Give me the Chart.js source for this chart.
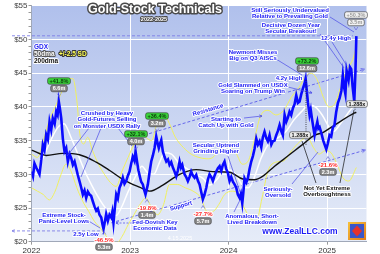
<!DOCTYPE html>
<html>
<head>
<meta charset="utf-8">
<script src="https://cdn.jsdelivr.net/npm/chart.js@4.4.1/dist/chart.umd.min.js"></script>
<style>
  html, body { margin: 0; padding: 0; background: #fff; }
</style>
</head>
<body>
<canvas id="gdxChart" width="380" height="254"></canvas>
<script>
// GDX daily closes (decimal years)
const gdxDates = [
  2022.000, 2022.015, 2022.030, 2022.048, 2022.081, 2022.100, 2022.115, 2022.132, 2022.149, 2022.166,
  2022.183, 2022.200, 2022.216, 2022.235, 2022.251, 2022.265, 2022.277, 2022.290, 2022.302, 2022.318,
  2022.335, 2022.352, 2022.369, 2022.386, 2022.403, 2022.420, 2022.437, 2022.455, 2022.470, 2022.487,
  2022.505, 2022.521, 2022.538, 2022.555, 2022.572, 2022.589, 2022.605, 2022.622, 2022.640, 2022.657,
  2022.673, 2022.690, 2022.708, 2022.720, 2022.731, 2022.745, 2022.758, 2022.775, 2022.792, 2022.809,
  2022.820, 2022.832, 2022.846, 2022.860, 2022.876, 2022.893, 2022.910, 2022.927, 2022.944, 2022.961,
  2022.978, 2022.995, 2023.012, 2023.028, 2023.045, 2023.056, 2023.072, 2023.085, 2023.096, 2023.113,
  2023.130, 2023.145, 2023.157, 2023.170, 2023.181, 2023.198, 2023.215, 2023.232, 2023.249, 2023.258,
  2023.266, 2023.280, 2023.292, 2023.305, 2023.317, 2023.333, 2023.350, 2023.368, 2023.385, 2023.401,
  2023.418, 2023.435, 2023.452, 2023.469, 2023.486, 2023.503, 2023.517, 2023.530, 2023.553, 2023.570,
  2023.587, 2023.604, 2023.621, 2023.638, 2023.655, 2023.672, 2023.690, 2023.706, 2023.722, 2023.739,
  2023.756, 2023.774, 2023.790, 2023.807, 2023.824, 2023.841, 2023.858, 2023.875, 2023.892, 2023.909,
  2023.926, 2023.942, 2023.959, 2023.976, 2023.993, 2024.010, 2024.027, 2024.044, 2024.061, 2024.078,
  2024.094, 2024.112, 2024.125, 2024.139, 2024.150, 2024.162, 2024.180, 2024.196, 2024.213, 2024.230,
  2024.247, 2024.264, 2024.281, 2024.298, 2024.315, 2024.332, 2024.348, 2024.365, 2024.382, 2024.399,
  2024.416, 2024.434, 2024.450, 2024.467, 2024.484, 2024.500, 2024.518, 2024.535, 2024.551, 2024.569,
  2024.586, 2024.602, 2024.619, 2024.636, 2024.653, 2024.670, 2024.687, 2024.704, 2024.721, 2024.738,
  2024.754, 2024.770, 2024.782, 2024.794, 2024.805, 2024.822, 2024.834, 2024.846, 2024.860, 2024.873,
  2024.887, 2024.901, 2024.912, 2024.924, 2024.936, 2024.947, 2024.961, 2024.975, 2024.992, 2025.008,
  2025.025, 2025.042, 2025.059, 2025.074, 2025.092, 2025.110, 2025.127, 2025.145, 2025.160, 2025.174,
  2025.186, 2025.198, 2025.218, 2025.232, 2025.245, 2025.259, 2025.276, 2025.287, 2025.297
];
const gdxPrices = [
  30.4, 29.7, 31.6, 31.0, 30.0, 32.2, 34.4, 33.6, 35.9, 35.2,
  37.8, 36.6, 38.3, 37.5, 39.3, 38.8, 40.8, 39.6, 38.3, 35.3,
  33.4, 33.9, 31.9, 33.0, 32.4, 31.4, 31.9, 30.8, 29.9, 29.0,
  28.0, 27.0, 27.6, 26.5, 27.4, 27.0, 26.8, 26.0, 25.2, 24.6,
  24.9, 24.0, 23.6, 22.6, 21.9, 23.0, 24.1, 23.1, 24.0, 23.6,
  24.4, 22.8, 25.0, 27.0, 26.4, 28.0, 28.6, 29.5, 28.6, 29.0,
  29.8, 30.4, 31.6, 32.6, 32.0, 33.4, 31.8, 30.6, 29.9, 28.9,
  28.5, 27.6, 27.0, 27.8, 28.5, 30.3, 31.9, 32.8, 33.9, 34.8,
  35.6, 34.6, 33.9, 34.6, 35.1, 33.4, 32.6, 31.9, 32.2, 31.4,
  31.8, 31.0, 30.4, 29.7, 30.6, 31.9, 31.0, 31.4, 30.0, 29.6,
  29.0, 29.6, 30.4, 29.8, 29.5, 29.9, 29.0, 28.5, 27.4, 26.3,
  27.0, 28.0, 29.2, 30.0, 29.6, 29.0, 29.8, 30.4, 30.9, 31.2,
  30.5, 31.4, 31.9, 30.8, 30.2, 29.0, 29.6, 28.9, 28.5, 28.0,
  27.0, 26.5, 27.1, 25.7, 27.3, 29.4, 28.8, 29.4, 30.8, 31.9,
  32.7, 33.8, 35.3, 34.4, 34.9, 34.0, 35.5, 36.3, 35.4, 34.9,
  35.8, 34.4, 34.9, 35.0, 35.8, 36.4, 37.3, 36.4, 35.8, 38.8,
  37.8, 38.4, 39.3, 38.8, 39.8, 40.4, 41.7, 40.6, 40.8, 41.9,
  42.7, 43.4, 44.2, 42.4, 40.7, 38.8, 39.6, 38.3, 37.0, 35.8,
  36.9, 37.8, 36.8, 37.0, 36.4, 35.8, 35.0, 34.4, 33.7, 34.6,
  35.8, 35.6, 37.0, 37.2, 39.2, 40.6, 41.3, 42.4, 44.7, 42.8,
  41.9, 45.4, 44.0, 45.9, 45.6, 43.0, 40.8, 45.0, 50.5
];

// 50-day moving average (white)
const ma50Dates = [
  2022.00, 2022.05, 2022.12, 2022.20, 2022.27, 2022.33, 2022.40, 2022.47, 2022.54, 2022.60,
  2022.67, 2022.74, 2022.80, 2022.86, 2022.92, 2022.98, 2023.05, 2023.12, 2023.18, 2023.24,
  2023.30, 2023.35, 2023.42, 2023.50, 2023.58, 2023.66, 2023.74, 2023.81, 2023.88, 2023.95,
  2024.02, 2024.08, 2024.15, 2024.20, 2024.26, 2024.33, 2024.42, 2024.50, 2024.58, 2024.66,
  2024.74, 2024.82, 2024.88, 2024.95, 2025.02, 2025.06, 2025.14, 2025.24, 2025.297
];
const ma50Values = [
  30.0, 30.2, 32.5, 35.2, 37.0, 37.5, 35.5, 33.0, 30.5, 28.7,
  26.8, 25.2, 24.2, 23.9, 25.3, 27.4, 29.5, 31.2, 30.2, 30.0,
  31.8, 33.2, 33.0, 31.6, 30.8, 30.0, 29.4, 28.4, 29.2, 30.5,
  30.6, 29.8, 28.2, 28.0, 29.5, 32.4, 34.8, 35.4, 36.3, 38.0,
  39.3, 40.3, 40.0, 38.8, 37.0, 36.3, 37.6, 39.6, 40.5
];

// 200-day moving average (black)
const ma200Dates = [
  2022.00, 2022.149, 2022.318, 2022.487, 2022.657, 2022.79, 2022.92, 2023.00, 2023.096, 2023.198,
  2023.333, 2023.503, 2023.672, 2023.841, 2024.010, 2024.145, 2024.264, 2024.345, 2024.467, 2024.548,
  2024.67, 2024.75, 2024.873, 2024.957, 2025.076, 2025.28, 2025.297
];
const ma200Values = [
  33.6, 32.8, 33.1, 32.9, 31.8, 30.6, 29.3, 28.7, 28.1, 27.5,
  28.4, 30.0, 30.7, 30.4, 30.3, 29.3, 29.2, 29.7, 31.2, 32.1,
  33.5, 34.4, 35.8, 36.2, 37.3, 39.1, 39.2
];

// 50dma +/- 2.5 SD bands (yellow)
const upperDates = [
  2022.00, 2022.06, 2022.12, 2022.18, 2022.24, 2022.30, 2022.36, 2022.42, 2022.46, 2022.49,
  2022.53, 2022.57, 2022.62, 2022.68, 2022.74, 2022.80, 2022.86, 2022.92, 2022.98, 2023.04,
  2023.10, 2023.16, 2023.22, 2023.28, 2023.34, 2023.40, 2023.46, 2023.54, 2023.62, 2023.70,
  2023.78, 2023.84, 2023.90, 2023.96, 2024.02, 2024.08, 2024.14, 2024.20, 2024.26, 2024.32,
  2024.40, 2024.48, 2024.56, 2024.64, 2024.72, 2024.78, 2024.84, 2024.90, 2024.96, 2025.02,
  2025.08, 2025.14, 2025.20, 2025.26, 2025.297
];
const upperValues = [
  33.0, 32.5, 35.0, 38.0, 40.0, 42.0, 44.0, 44.2, 41.0, 36.0,
  34.5, 35.5, 33.5, 31.5, 30.0, 28.8, 28.2, 30.5, 32.5, 34.5,
  36.5, 35.5, 35.0, 38.0, 39.0, 37.5, 35.5, 34.0, 33.0, 32.5,
  32.3, 32.5, 33.5, 34.5, 34.0, 33.0, 31.5, 32.0, 35.0, 38.5,
  39.5, 38.8, 39.5, 41.5, 43.0, 44.5, 45.0, 44.0, 41.5, 40.0,
  40.5, 43.0, 45.5, 47.0, 49.0
];
const lowerDates = [
  2022.00, 2022.06, 2022.12, 2022.18, 2022.24, 2022.30, 2022.35, 2022.40, 2022.46, 2022.52,
  2022.58, 2022.64, 2022.70, 2022.76, 2022.82, 2022.87, 2022.92, 2022.98, 2023.04, 2023.10,
  2023.16, 2023.22, 2023.28, 2023.34, 2023.40, 2023.48, 2023.56, 2023.64, 2023.72, 2023.78,
  2023.84, 2023.90, 2023.96, 2024.04, 2024.10, 2024.16, 2024.22, 2024.28, 2024.34, 2024.40,
  2024.48, 2024.56, 2024.64, 2024.72, 2024.80, 2024.86, 2024.92, 2024.98, 2025.04, 2025.10,
  2025.16, 2025.22, 2025.297
];
const lowerValues = [
  28.0, 27.5, 27.0, 26.2, 27.5, 30.0, 31.5, 30.5, 28.0, 26.0,
  24.5, 23.0, 22.0, 20.8, 20.0, 19.9, 20.8, 22.5, 24.0, 25.5,
  26.5, 25.0, 24.0, 25.5, 28.5, 28.5, 28.0, 27.5, 26.5, 24.5,
  24.5, 25.5, 27.0, 27.5, 27.0, 25.0, 23.5, 23.0, 26.5, 30.5,
  31.8, 32.0, 33.5, 34.8, 35.5, 34.0, 33.0, 33.5, 33.2, 31.5,
  29.5, 29.0, 31.0
];

// trend channel drawn on the chart
const resistanceDates = [2023.096, 2025.38];
const resistanceValues = [35.6, 45.6];
const supportDates = [2022.81, 2025.39];
const supportValues = [22.8, 33.6];

// dashed reference levels
const levelHigh = 50.55;
const levelLow = 21.6;

const yearTicks = [2022, 2023, 2024, 2025];

const FONT = '"Liberation Sans", Arial, sans-serif';
const BLUE = '#1c1cf5';

function toXY(dates, values) {
  return dates.map((d, i) => ({ x: d, y: values[i] }));
}

// --- drawing helpers for the callouts ---
function halo(ctx, text, x, y, fill, size, stroke, lw) {
  ctx.font = 'bold ' + size + 'px ' + FONT;
  ctx.textAlign = 'center';
  ctx.textBaseline = 'middle';
  ctx.lineJoin = 'round';
  ctx.strokeStyle = stroke || '#ffffff';
  ctx.lineWidth = lw || 2;
  ctx.strokeText(text, x, y);
  ctx.fillStyle = fill;
  ctx.fillText(text, x, y);
}

function pill(ctx, text, x, y, bg, fg) {
  ctx.font = 'bold 5.5px ' + FONT;
  ctx.textAlign = 'center';
  ctx.textBaseline = 'middle';
  const w = ctx.measureText(text).width + 4, h = 6.5;
  ctx.beginPath();
  ctx.roundRect(x - w / 2, y - h / 2, w, h, 2);
  ctx.fillStyle = bg;
  ctx.fill();
  ctx.strokeStyle = '#333';
  ctx.lineWidth = 0.6;
  ctx.stroke();
  ctx.fillStyle = fg;
  ctx.fillText(text, x, y + 0.3);
}

function seg(ctx, x1, y1, x2, y2, color, dash, lw) {
  ctx.beginPath();
  ctx.setLineDash(dash || []);
  ctx.moveTo(x1, y1);
  ctx.lineTo(x2, y2);
  ctx.strokeStyle = color;
  ctx.lineWidth = lw || 0.7;
  ctx.stroke();
  ctx.setLineDash([]);
}

function head(ctx, x1, y1, x2, y2, color, size) {
  const a = Math.atan2(y2 - y1, x2 - x1), s = size || 4;
  ctx.beginPath();
  ctx.moveTo(x2, y2);
  ctx.lineTo(x2 - s * Math.cos(a - 0.45), y2 - s * Math.sin(a - 0.45));
  ctx.moveTo(x2, y2);
  ctx.lineTo(x2 - s * Math.cos(a + 0.45), y2 - s * Math.sin(a + 0.45));
  ctx.strokeStyle = color;
  ctx.lineWidth = 0.8;
  ctx.stroke();
}

function chevron(ctx, x, y, up) {
  ctx.beginPath();
  const d = up ? -1 : 1;
  ctx.moveTo(x - 1.8, y - d * 1.5);
  ctx.lineTo(x, y + d * 1.5);
  ctx.lineTo(x + 1.8, y - d * 1.5);
  ctx.strokeStyle = '#6a6ad8';
  ctx.lineWidth = 0.7;
  ctx.stroke();
}

// blue callouts: lines of text, centre x, first line y
const notes = [
  { lines: ['Crushed by Heavy', 'Gold-Futures Selling', 'on Monster USDX Rally'], x: 107, y: 113 },
  { lines: ['Extreme Stock-', 'Panic-Level Lows'], x: 64, y: 215 },
  { lines: ['2.5y Low'], x: 86, y: 234 },
  { lines: ['Fed-Dovish Key', 'Economic Data'], x: 155, y: 222 },
  { lines: ['Secular Uptrend', 'Grinding Higher'], x: 216, y: 145 },
  { lines: ['Starting to', 'Catch Up with Gold'], x: 226, y: 119 },
  { lines: ['Gold Slammed on USDX', 'Soaring on Trump Win'], x: 253, y: 85 },
  { lines: ['Newmont Misses', 'Big on Q3 AISCs'], x: 253, y: 52 },
  { lines: ['4.2y High'], x: 289, y: 78 },
  { lines: ['Still Seriously Undervalued', 'Relative to Prevailing Gold'], x: 290, y: 10 },
  { lines: ['Decisive Dozen Year', 'Secular Breakout!'], x: 291, y: 25 },
  { lines: ['12.4y High'], x: 336, y: 38 },
  { lines: ['Seriously-', 'Oversold'], x: 278, y: 189 },
  { lines: ['Anomalous, Short-', 'Lived Breakdown'], x: 252, y: 216 }
];

const gains = [
  { pct: '+41.8%', span: '6.6m', x: 59, y: 81 },
  { pct: '+32.1%', span: '4.0m', x: 136, y: 134 },
  { pct: '+36.4%', span: '3.2m', x: 157, y: 116 },
  { pct: '+73.2%', span: '12.6m', x: 307, y: 61 }
];
const losses = [
  { pct: '-46.5%', span: '5.3m', x: 104, y: 240 },
  { pct: '-19.8%', span: '1.4m', x: 147, y: 208 },
  { pct: '-27.7%', span: '5.7m', x: 203, y: 214 },
  { pct: '-21.6%', span: '2.3m', x: 328, y: 165 }
];

const plotBg = {
  id: 'plotBg',
  beforeDraw(chart) {
    const { ctx, chartArea: a } = chart;
    const g = ctx.createLinearGradient(0, a.top, 0, a.bottom);
    g.addColorStop(0, '#b0c0ec');
    g.addColorStop(1, '#e6ecf8');
    ctx.save();
    ctx.fillStyle = g;
    ctx.fillRect(a.left, a.top, a.right - a.left, a.bottom - a.top);
    ctx.restore();
  }
};

const callouts = {
  id: 'callouts',
  afterDraw(chart) {
    const ctx = chart.ctx;
    const xs = chart.scales.x, ys = chart.scales.y;
    const lc = '#4a4ae6';
    ctx.save();

    // dashed level lines running out past the axis
    const yh = ys.getPixelForValue(levelHigh), yl = ys.getPixelForValue(levelLow);
    seg(ctx, 12, yh, 353, yh, '#7f7fe6', [3, 2], 0.9);
    seg(ctx, 12, yl, 100, yl, '#7f7fe6', [3, 2], 0.9);
    head(ctx, 20, yl, 12, yl, '#7f7fe6', 3);

    // arrow tips on the channel lines
    head(ctx, xs.getPixelForValue(resistanceDates[0]), ys.getPixelForValue(resistanceValues[0]),
      xs.getPixelForValue(resistanceDates[1]), ys.getPixelForValue(resistanceValues[1]), '#5a5aea', 4);
    head(ctx, xs.getPixelForValue(supportDates[0]), ys.getPixelForValue(supportValues[0]),
      xs.getPixelForValue(supportDates[1]), ys.getPixelForValue(supportValues[1]), '#5a5aea', 4);

    // pointer lines
    seg(ctx, 89, 128, 67, 156, lc);
    seg(ctx, 101, 128, 81, 177, lc);
    seg(ctx, 118, 128, 132, 146, lc);
    seg(ctx, 87, 220, 100, 228, lc);
    seg(ctx, 132, 223, 116, 223, lc, [2, 1.5]);
    head(ctx, 124, 223, 116, 223, lc, 3);
    seg(ctx, 228, 156, 240, 192, lc);
    seg(ctx, 244, 118, 262, 116, lc);
    head(ctx, 250, 117, 262, 116, lc, 3);
    seg(ctx, 288, 87, 312, 93, lc);
    head(ctx, 300, 88, 312, 93, lc, 3);
    seg(ctx, 276, 59, 302, 75, lc);
    seg(ctx, 330, 17, 354, 32, lc);
    seg(ctx, 320, 34, 344, 68, lc);
    seg(ctx, 332, 42, 347, 66, lc);
    seg(ctx, 292, 184, 318, 152, lc);
    seg(ctx, 234, 212, 240, 200, lc);
    seg(ctx, 316, 183, 302, 141, '#111');
    seg(ctx, 340, 183, 354, 110, '#111');
    seg(ctx, 306, 80, 306, 146, '#222', [1, 1.2], 0.8);
    seg(ctx, 355, 100, 355, 111, '#222', [1, 1.2], 0.8);

    // rotated channel labels
    ctx.save();
    ctx.translate(208, 110);
    ctx.rotate(-0.29);
    halo(ctx, 'Resistance', 0, 0, BLUE, 6);
    ctx.restore();
    ctx.save();
    ctx.translate(181, 206);
    ctx.rotate(-0.28);
    halo(ctx, 'Support', 0, 0, BLUE, 6);
    ctx.restore();

    notes.forEach(n => n.lines.forEach((t, i) => halo(ctx, t, n.x, n.y + i * 6.5, BLUE, 6)));
    halo(ctx, 'Not Yet Extreme', 327, 188, '#111', 6);
    halo(ctx, 'Overboughtness', 327, 194.5, '#111', 6);

    gains.forEach(g => {
      pill(ctx, g.pct, g.x, g.y, '#39d239', '#0b3a0b');
      pill(ctx, g.span, g.x, g.y + 7.5, '#8a8a8a', '#ffffff');
      chevron(ctx, g.x, g.y + 14, false);
    });
    losses.forEach(l => {
      halo(ctx, l.pct, l.x, l.y, '#ff2a2a', 6);
      pill(ctx, l.span, l.x, l.y + 7, '#8a8a8a', '#ffffff');
      chevron(ctx, l.x, l.y - 7, true);
    });
    pill(ctx, '+50.3%', 356, 15, '#f2f2f2', '#9a9a9a');
    pill(ctx, '3.5m', 356, 22.5, '#f2f2f2', '#9a9a9a');
    chevron(ctx, 356, 28.5, false);
    pill(ctx, '1.288x', 300, 135, '#eeeeee', '#111111');
    pill(ctx, '1.288x', 357, 104, '#eeeeee', '#111111');

    // title block and legend
    halo(ctx, 'Gold-Stock Technicals', 155, 10, '#ffffff', 12.5, '#4a4a4a', 3);
    halo(ctx, '2022-2025', 154, 19.5, '#ffffff', 5.5, '#4a4a4a', 2);
    const legend = [
      ['GDX', 34, 47, BLUE, '#ffffff'],
      ['50dma', 34, 54, '#ffffff', '#555555'],
      ['+/-2.5 SD', 59, 54, '#ffff55', '#333333'],
      ['200dma', 34, 61, '#111111', '#ffffff']
    ];
    legend.forEach(([t, x, y, f, s]) => {
      ctx.font = 'bold 6.5px ' + FONT;
      ctx.textAlign = 'left';
      ctx.textBaseline = 'middle';
      ctx.lineJoin = 'round';
      ctx.strokeStyle = s;
      ctx.lineWidth = 2;
      ctx.strokeText(t, x, y);
      ctx.fillStyle = f;
      ctx.fillText(t, x, y);
    });

    // footer
    ctx.font = '5.5px ' + FONT;
    ctx.textAlign = 'center';
    ctx.fillStyle = '#ffffff';
    ctx.fillText('4.15.2025', 180, 238);
    halo(ctx, 'www.ZealLLC.com', 300, 232, BLUE, 8.5, '#ffffff', 2);

    // little logo badge
    const lg = ctx.createLinearGradient(348, 222, 366, 240);
    lg.addColorStop(0, '#f6c23a');
    lg.addColorStop(1, '#e07a1a');
    ctx.fillStyle = lg;
    ctx.fillRect(348, 222, 18, 18);
    ctx.fillStyle = '#3a56c8';
    ctx.fillRect(350, 224, 14, 14);
    ctx.beginPath();
    ctx.moveTo(357, 225.5); ctx.lineTo(362, 231); ctx.lineTo(357, 236.5); ctx.lineTo(352, 231);
    ctx.closePath();
    ctx.fillStyle = '#e8322a';
    ctx.fill();
    ctx.restore();
  }
};

const ctx = document.getElementById('gdxChart').getContext('2d');
new Chart(ctx, {
  type: 'line',
  data: {
    datasets: [
      { label: 'GDX', data: toXY(gdxDates, gdxPrices), borderColor: '#0a0aff', borderWidth: 2.6, tension: 0 },
      { label: '200dma', data: toXY(ma200Dates, ma200Values), borderColor: '#111111', borderWidth: 1.4, cubicInterpolationMode: 'monotone' },
      { label: '50dma', data: toXY(ma50Dates, ma50Values), borderColor: '#ffffff', borderWidth: 1.5, cubicInterpolationMode: 'monotone' },
      { label: 'Upper band', data: toXY(upperDates, upperValues), borderColor: '#f0f060', borderWidth: 1, cubicInterpolationMode: 'monotone' },
      { label: 'Lower band', data: toXY(lowerDates, lowerValues), borderColor: '#f0f060', borderWidth: 1, cubicInterpolationMode: 'monotone' },
      { label: 'Resistance', data: toXY(resistanceDates, resistanceValues), borderColor: '#5a5aea', borderWidth: 0.9, borderDash: [3, 2] },
      { label: 'Support', data: toXY(supportDates, supportValues), borderColor: '#5a5aea', borderWidth: 0.9, borderDash: [3, 2] }
    ]
  },
  options: {
    responsive: false,
    animation: false,
    layout: { padding: { top: 3, right: 13.5, left: 0, bottom: 0 } },
    elements: { point: { radius: 0 } },
    plugins: { legend: { display: false }, tooltip: { enabled: false } },
    scales: {
      x: {
        type: 'linear',
        min: 2022,
        max: 2025.40,
        afterBuildTicks: s => { s.ticks = yearTicks.map(v => ({ value: v })); },
        afterFit: s => { s.height = 12.3; },
        ticks: { callback: v => String(v), color: '#333', font: { family: FONT, size: 8 }, padding: 1, maxRotation: 0 },
        grid: { color: '#ffffff', lineWidth: 1, tickLength: 3, tickColor: '#999' },
        border: { color: '#a0a8b8' }
      },
      y: {
        min: 20,
        max: 55,
        afterFit: s => { s.width = 31.5; },
        ticks: {
          stepSize: 1,
          autoSkip: false,
          callback: v => (v % 5 === 0 ? '$' + v : ''),
          color: '#444',
          font: { family: FONT, size: 8 },
          padding: 1
        },
        grid: {
          color: c => (c.tick && c.tick.value % 5 === 0 ? '#ffffff' : 'rgba(0,0,0,0)'),
          tickColor: '#999',
          tickLength: 3
        },
        border: { color: '#a0a8b8' }
      }
    }
  },
  plugins: [plotBg, callouts]
});
</script>
</body>
</html>
